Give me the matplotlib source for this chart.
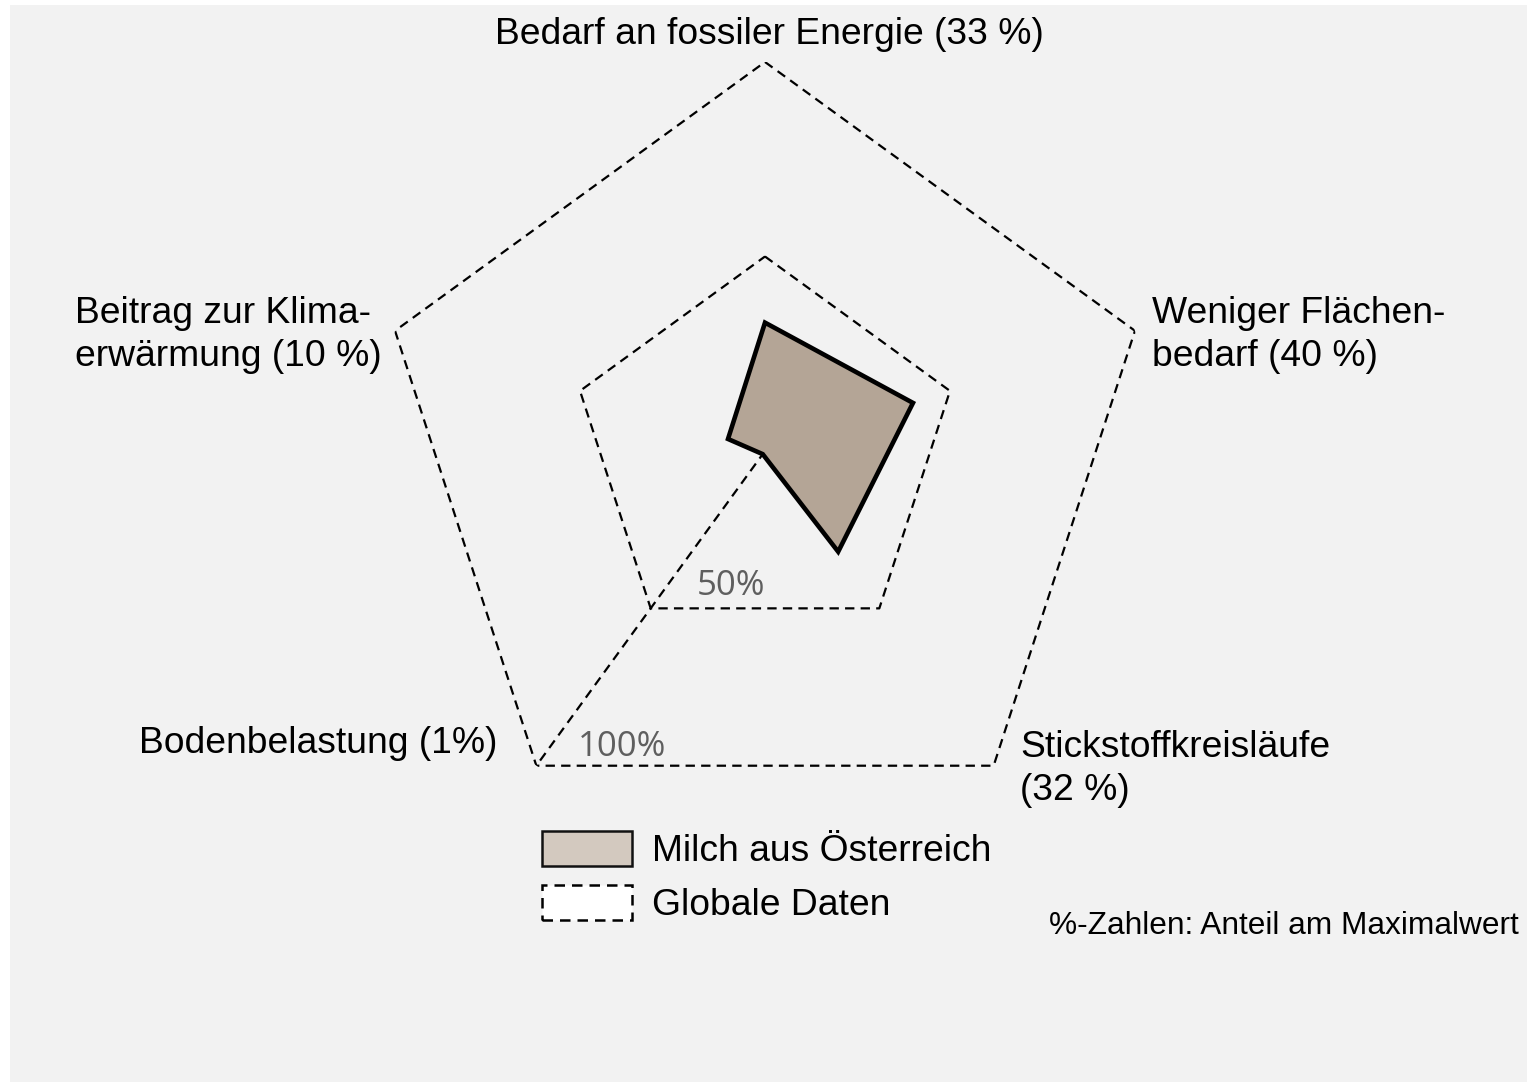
import numpy as np
import matplotlib.pyplot as plt
from matplotlib.patches import Patch, Rectangle

W, H = 1527, 1082

# axes in clockwise order from the top
categories = ["Bedarf an fossiler Energie (33 %)",
              "Weniger Flächen-\nbedarf (40 %)",
              "Stickstoffkreisläufe\n(32 %)",
              "Bodenbelastung (1%)",
              "Beitrag zur Klima-\nerwärmung (10 %)"]
milch = [33, 40, 32, 1, 10]          # % of maximum, Milch aus Österreich
rings = [50, 100]                    # global data rings
ring_labels = ["50%", "100%"]
legend_labels = ["Milch aus Österreich", "Globale Daten"]
note = "%-Zahlen: Anteil am Maximalwert"

plt.rcParams['font.family'] = ['Liberation Sans', 'DejaVu Sans']

fig = plt.figure(figsize=(W / 100, H / 100), dpi=100)
fig.patch.set_facecolor('white')
fig.patches.append(Rectangle((10 / W, 0), 1 - 10 / W, 1 - 5 / H, transform=fig.transFigure,
                             facecolor='#f2f2f2', edgecolor='none', zorder=-10))

def px(x, y):
    return x / W, 1 - y / H

cx, cy, R = 765, 451, 389
ax = fig.add_axes([(cx - R) / W, (H - cy - R) / H, 2 * R / W, 2 * R / H], projection='polar')
ax.set_theta_zero_location('N')
ax.set_theta_direction(-1)
ax.set_ylim(0, 100)
ax.patch.set_visible(False)
ax.spines['polar'].set_visible(False)
ax.grid(False)
ax.set_xticks([])
ax.set_yticks([])

n = len(categories)
theta = np.arange(n) * 2 * np.pi / n
theta_c = np.append(theta, theta[0])

dash = dict(color='black', lw=1.6, linestyle=(0, (4.2, 2.8)))
for r in rings:
    ax.plot(theta_c, [r] * (n + 1), **dash)
# spoke for Bodenbelastung
ax.plot([theta[3], theta[3]], [0, rings[-1]], **dash)

vals = np.append(milch, milch[0])
ax.fill(theta_c, vals, facecolor='#b4a596', edgecolor='black', lw=3.3, zorder=3)

# category labels (baseline = last line)
fs = 26.8
ls = 1.31
fig.text(*px(769, 44), categories[0], ha='center', va='baseline', fontsize=fs)
fig.text(*px(1152, 366), categories[1], ha='left', va='baseline', fontsize=fs, linespacing=ls)
fig.text(*px(1020, 800), categories[2], ha='left', va='baseline', fontsize=fs, linespacing=ls)
fig.text(*px(497, 753), categories[3], ha='right', va='baseline', fontsize=fs)
fig.text(*px(75, 366), categories[4], ha='left', va='baseline', fontsize=fs, linespacing=ls)

# ring labels
fig.text(*px(697, 595), ring_labels[0], ha='left', va='baseline', fontsize=25,
         color='#5f5f5f', family='Open Sans')
fig.text(*px(578, 756), ring_labels[1], ha='left', va='baseline', fontsize=25,
         color='#5f5f5f', family='Open Sans')

fig.text(*px(1519, 934), note, ha='right', va='baseline', fontsize=22.8)

handles = [Patch(facecolor='#d3c9bf', edgecolor='#111111', lw=1.8),
           Patch(facecolor='white', edgecolor='black', lw=1.8, linestyle=(0, (4.2, 2.8)))]
fig.legend(handles, legend_labels, loc='upper left', bbox_to_anchor=px(542, 831),
           frameon=False, fontsize=fs, handlelength=2.42, handleheight=1.08,
           handletextpad=0.54, labelspacing=0.42, borderpad=0, borderaxespad=0)

fig.savefig('out.png', dpi=100, facecolor=fig.get_facecolor())
